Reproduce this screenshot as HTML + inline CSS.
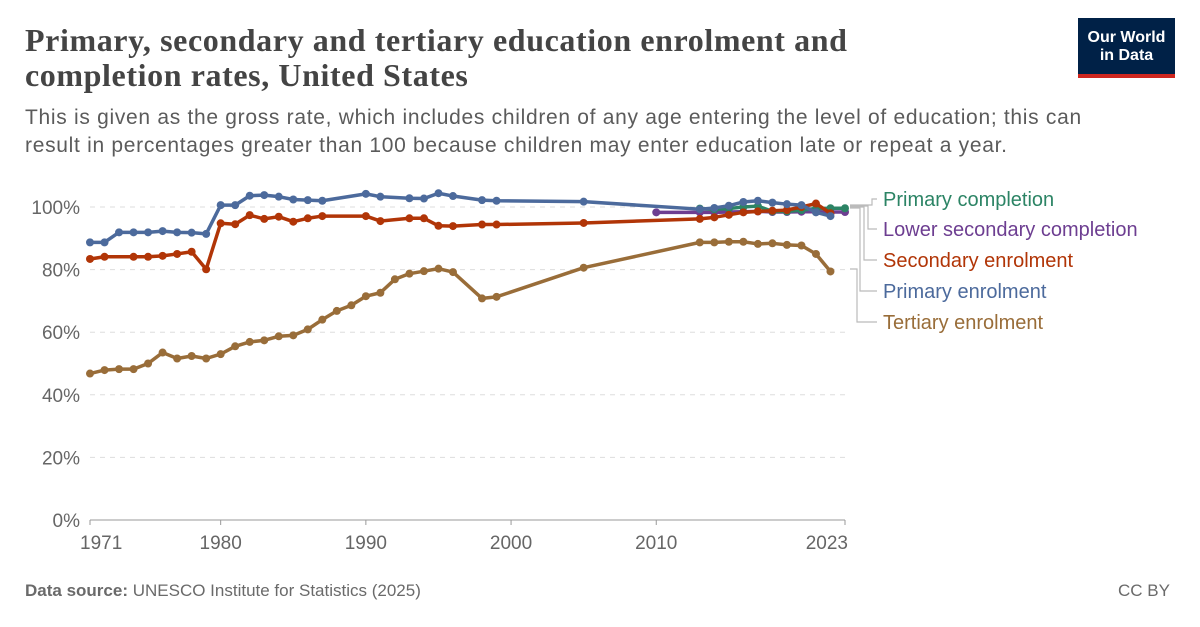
<!DOCTYPE html>
<html><head><meta charset="utf-8"><style>
body{margin:0;width:1200px;height:627px;background:#fff;overflow:hidden;font-family:"Liberation Sans",sans-serif;}
.title{position:absolute;left:25px;top:23px;font-family:"Liberation Serif",serif;font-weight:bold;font-size:32px;letter-spacing:0.6px;line-height:35px;color:#444;}
.sub{position:absolute;left:25px;top:104px;font-size:21px;letter-spacing:0.7px;line-height:28px;color:#5b5b5b;width:1110px;}
.logo{position:absolute;left:1078px;top:18px;width:97px;height:60px;background:#002147;color:#fff;font-size:16px;font-weight:bold;line-height:18px;text-align:center;box-sizing:border-box;padding-top:11px;border-bottom:4px solid #ce261e;}
.foot{position:absolute;top:581px;font-size:17px;color:#6a6a6a;}
</style></head><body>
<div class="title">Primary, secondary and tertiary education enrolment and<br>completion rates, United States</div>
<div class="sub">This is given as the gross rate, which includes children of any age entering the level of education; this can<br>result in percentages greater than 100 because children may enter education late or repeat a year.</div>
<div class="logo">Our World<br>in Data</div>
<div class="foot" style="left:25px"><b>Data source:</b> UNESCO Institute for Statistics (2025)</div>
<div class="foot" style="right:30px">CC BY</div>
<svg id="chart" width="1200" height="627" style="position:absolute;left:0;top:0"></svg>
<script>
const yTicks=[0,20,40,60,80,100];
const xTicks=[1971,1980,1990,2000,2010,2023];
const names=["Primary completion","Lower secondary completion","Secondary enrolment","Primary enrolment","Tertiary enrolment"];
const colors=["#2c8465","#6d3e91","#b13507","#4c6a9c","#996d39"];
const primEnrYears=[1971,1972,1973,1974,1975,1976,1977,1978,1979,1980,1981,1982,1983,1984,1985,1986,1987,1990,1991,1993,1994,1995,1996,1998,1999,2005,2013,2014,2015,2016,2017,2018,2019,2020,2021,2022];
const primEnrVals=[88.7,88.7,91.9,91.9,91.9,92.3,91.9,91.8,91.4,100.6,100.6,103.6,103.8,103.3,102.4,102.2,102,104.2,103.3,102.8,102.7,104.4,103.5,102.2,102,101.7,99.3,99.7,100.4,101.6,102,101.4,100.9,100.6,98.3,97.1];
const secEnrYears=[1971,1972,1974,1975,1976,1977,1978,1979,1980,1981,1982,1983,1984,1985,1986,1987,1990,1991,1993,1994,1995,1996,1998,1999,2005,2013,2014,2015,2016,2017,2018,2019,2020,2021,2022];
const secEnrVals=[83.4,84.1,84.1,84.1,84.4,85,85.7,80.1,94.8,94.5,97.4,96.2,96.9,95.3,96.4,97.1,97.1,95.5,96.4,96.4,94,93.9,94.4,94.4,94.9,96.2,96.7,97.5,98.3,98.6,98.8,99,100,101.1,98];
const terYears=[1971,1972,1973,1974,1975,1976,1977,1978,1979,1980,1981,1982,1983,1984,1985,1986,1987,1988,1989,1990,1991,1992,1993,1994,1995,1996,1998,1999,2005,2013,2014,2015,2016,2017,2018,2019,2020,2021,2022];
const terVals=[46.8,47.9,48.2,48.2,50,53.5,51.6,52.4,51.6,53,55.5,56.9,57.4,58.7,59,60.9,64,66.8,68.6,71.5,72.6,76.9,78.7,79.5,80.3,79.2,70.8,71.3,80.6,88.7,88.7,88.9,88.9,88.2,88.4,87.9,87.7,85,79.4];
const primCompYears=[2013,2014,2015,2016,2017,2018,2019,2020,2021,2022,2023];
const primCompVals=[99.5,99.3,99.5,100,100.3,98.6,98.6,99,99.5,99.6,99.6];
const lowSecYears=[2010,2013,2014,2015,2016,2017,2018,2019,2020,2021,2022,2023];
const lowSecVals=[98.3,98.3,98.3,98.4,98.5,98.6,98.4,98.4,98.5,98.5,98.4,98.4];
const NS="http://www.w3.org/2000/svg",svg=document.getElementById('chart');
const X=y=>90+(y-1971)*(755/52), Y=v=>520-v*3.13;
function mk(t,a){const e=document.createElementNS(NS,t);for(const k in a)e.setAttribute(k,a[k]);svg.appendChild(e);return e;}
yTicks.forEach(v=>{
 if(v>0){const g=mk('line',{x1:90,x2:845,y1:Y(v),y2:Y(v),stroke:'#ddd','stroke-dasharray':'5,5'});
 
 }
 const t=mk('text',{x:80,y:Y(v)+7,'text-anchor':'end','font-size':19,fill:'#666'});t.textContent=v+'%';
 
 
});
const ax=mk('line',{x1:90,x2:845,y1:520,y2:520,stroke:'#999'});


xTicks.forEach(y=>{
 mk('line',{x1:X(y),x2:X(y),y1:520,y2:525,stroke:'#999'});
 const t=mk('text',{x:X(y),y:549,'text-anchor':y==1971?'start':(y==2023?'end':'middle'),'font-size':19,fill:'#666'});
 if(y==1971)t.setAttribute('x',X(y)-10); if(y==2023)t.setAttribute('x',X(y)+3);
 t.textContent=y;
 
 
});
const series=[[terYears,terVals,4],[lowSecYears,lowSecVals,1],[primCompYears,primCompVals,0],[secEnrYears,secEnrVals,2],[primEnrYears,primEnrVals,3]];
series.forEach(([ys,vs,ci])=>{
 const p=mk('polyline',{points:ys.map((y,i)=>X(y)+','+Y(vs[i])).join(' '),fill:'none',stroke:colors[ci],'stroke-width':3.5,'stroke-linejoin':'round'});
 
 
 ys.forEach((y,i)=>{const c=mk('circle',{cx:X(y),cy:Y(vs[i]),r:4,fill:colors[ci]});
 
 });
});
const ly=[199,229,260,291,322], vx=[872,868,864,860,857], sy=[205,206,207,208,269];
names.forEach((n,i)=>{
 mk('polyline',{points:`850,${sy[i]} ${vx[i]},${sy[i]} ${vx[i]},${ly[i]} 877,${ly[i]}`,fill:'none',stroke:'#bbb','stroke-width':1.2});
 const t=mk('text',{x:883,y:ly[i]+7,'font-size':20,fill:colors[i]});t.textContent=n;
 
 
});
</script>
</body></html>
